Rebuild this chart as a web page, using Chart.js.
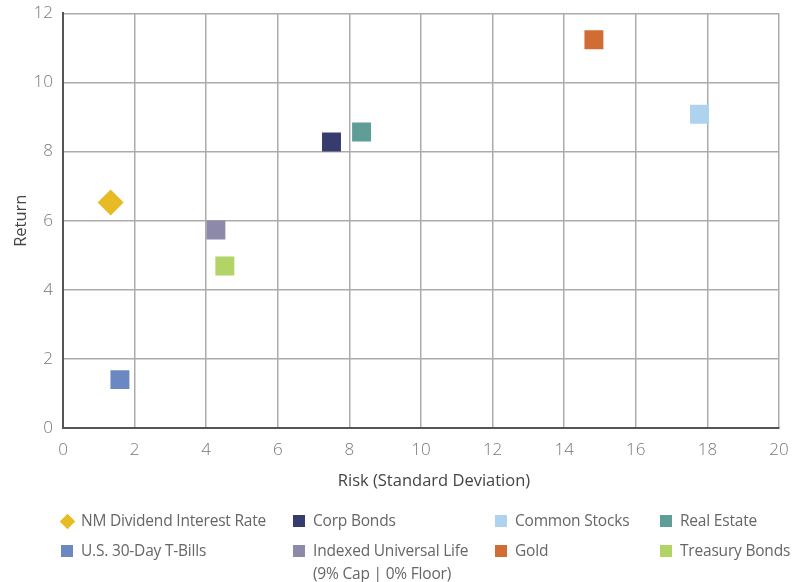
<!DOCTYPE html>
<html>
<head>
<meta charset="utf-8">
<script src="https://cdn.jsdelivr.net/npm/chart.js@4.4.1/dist/chart.umd.min.js"></script>
<style>
  html, body { margin: 0; padding: 0; background: #fff; }
  body { width: 804px; height: 582px; position: relative; overflow: hidden; font-family: "Open Sans", sans-serif; }
  #wrap { position: absolute; left: 0; top: 0; width: 804px; height: 500px; }
  #legend { position: absolute; left: 0; top: 0; width: 804px; height: 582px; pointer-events: none; }
  .item { position: absolute; font-size: 15.5px; line-height: 23px; color: #666; white-space: pre-line; letter-spacing: -0.2px; }
  .mk { position: absolute; }
  #xtitle { position: absolute; left: 334px; width: 200px; top: 469px; text-align: center; font-size: 16.5px; line-height: 22px; color: #444; white-space: nowrap; }
</style>
</head>
<body>
<div id="wrap"><canvas id="c"></canvas></div>
<div id="legend"></div>
<div id="xtitle"></div>
<script>
// Asset classes: risk (standard deviation) vs. return
const names = [
  "NM Dividend Interest Rate",
  "Corp Bonds",
  "Common Stocks",
  "Real Estate",
  "U.S. 30-Day T-Bills",
  "Indexed Universal Life\n(9% Cap | 0% Floor)",
  "Gold",
  "Treasury Bonds"
];
const risk    = [1.33, 7.50, 17.78, 8.34, 1.59, 4.27, 14.83, 4.52];
const returns = [6.53, 8.28,  9.08, 8.57, 1.40, 5.73, 11.24, 4.69];
const colors  = ["#E7BB24", "#363D6E", "#AED3EE", "#5E9E96", "#6B88C2", "#8C8AA8", "#D26C35", "#B2D366"];
const shapes  = ["rectRot", "rect", "rect", "rect", "rect", "rect", "rect", "rect"];

const xTicks = [0, 2, 4, 6, 8, 10, 12, 14, 16, 18, 20];
const yTicks = [0, 2, 4, 6, 8, 10, 12];
const xTitle = "Risk (Standard Deviation)";
const yTitle = "Return";

const datasets = names.map((n, i) => ({
  label: n,
  data: [{ x: risk[i], y: returns[i] }],
  backgroundColor: colors[i],
  borderColor: colors[i],
  borderWidth: 0,
  pointStyle: shapes[i],
  pointRadius: shapes[i] === "rectRot" ? 13 : 13.4,
  pointHoverRadius: shapes[i] === "rectRot" ? 13 : 13.4
}));

const tickFont = { family: "Open Sans", size: 17, weight: "300" };
const titleFont = { family: "Open Sans", size: 16.5 };

new Chart(document.getElementById("c"), {
  type: "scatter",
  data: { datasets },
  options: {
    responsive: true,
    maintainAspectRatio: false,
    animation: false,
    layout: { padding: { left: 0, right: 25, top: 12, bottom: 0 } },
    plugins: { legend: { display: false }, tooltip: { enabled: false } },
    scales: {
      x: {
        type: "linear",
        min: 0, max: 20,
        afterBuildTicks: s => { s.ticks = xTicks.map(v => ({ value: v })); },
        afterFit: s => { s.height = 72; s.paddingLeft = 0; s.paddingRight = 0; },
        grid: { color: "#ABABAB", lineWidth: 1.5, drawTicks: false },
        border: { color: "#555", width: 2 },
        ticks: { color: "#777", font: tickFont, padding: 12 }
      },
      y: {
        type: "linear",
        min: 0, max: 12,
        afterBuildTicks: s => { s.ticks = yTicks.map(v => ({ value: v })); },
        afterFit: s => { s.width = 63; s.paddingTop = 0; s.paddingBottom = 0; },
        grid: { color: "#ABABAB", lineWidth: 1.5, drawTicks: false },
        border: { color: "#555", width: 2 },
        ticks: { color: "#777", font: tickFont, padding: 10 },
        title: { display: true, text: yTitle, color: "#444", font: titleFont, padding: { top: 11, bottom: 4 } }
      }
    }
  }
});

document.getElementById("xtitle").textContent = xTitle;

// Legend, four columns by two rows, built from the same series arrays
const colText = [81, 313, 515, 680];
const rowMid = [521, 551];
const legend = document.getElementById("legend");
names.forEach((n, i) => {
  const col = i % 4, row = Math.floor(i / 4);
  const el = document.createElement("div");
  el.className = "item";
  el.style.left = colText[col] + "px";
  el.style.top = (rowMid[row] - 12) + "px";
  el.textContent = n;
  legend.appendChild(el);
  const mk = document.createElement("div");
  mk.className = "mk";
  if (shapes[i] === "rectRot") {
    mk.style.width = "11px"; mk.style.height = "11px";
    mk.style.left = (colText[col] - 19.5) + "px";
    mk.style.top = (rowMid[row] - 5.5) + "px";
    mk.style.transform = "rotate(45deg)";
  } else {
    mk.style.width = "12px"; mk.style.height = "12px";
    mk.style.left = (colText[col] - 20) + "px";
    mk.style.top = (rowMid[row] - 6) + "px";
  }
  mk.style.background = colors[i];
  legend.appendChild(mk);
});
</script>
</body>
</html>
